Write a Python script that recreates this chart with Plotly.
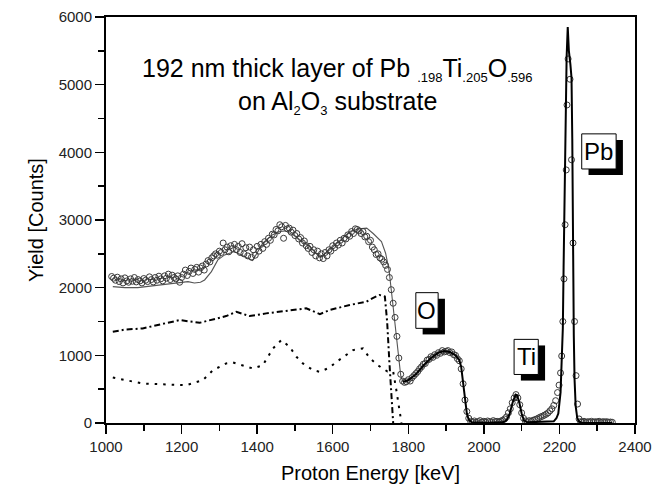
import plotly.graph_objects as go

# ---------------- data ----------------
# measured spectrum (open circles)
meas_energy = [
    1015, 1020, 1025, 1030, 1035, 1040, 1045, 1050, 1055, 1060, 1065, 1070, 1075, 1080, 1085, 1090, 1095,
    1100, 1105, 1110, 1115, 1120, 1125, 1130, 1135, 1140, 1145, 1150, 1155, 1160, 1165, 1170, 1175, 1180,
    1185, 1190, 1195, 1200, 1205, 1210, 1215, 1220, 1225, 1230, 1235, 1240, 1245, 1250, 1255, 1260, 1265,
    1270, 1275, 1280, 1285, 1290, 1295, 1300, 1305, 1310, 1315, 1320, 1325, 1330, 1335, 1340, 1345, 1350,
    1355, 1360, 1365, 1370, 1375, 1380, 1385, 1390, 1395, 1400, 1405, 1410, 1415, 1420, 1425, 1430, 1435,
    1440, 1445, 1450, 1455, 1460, 1465, 1470, 1475, 1480, 1485, 1490, 1495, 1500, 1505, 1510, 1515, 1520,
    1525, 1530, 1535, 1540, 1545, 1550, 1555, 1560, 1565, 1570, 1575, 1580, 1585, 1590, 1595, 1600, 1605,
    1610, 1615, 1620, 1625, 1630, 1635, 1640, 1645, 1650, 1655, 1660, 1665, 1670, 1675, 1680, 1685, 1690,
    1695, 1700, 1705, 1710, 1715, 1720, 1725, 1730, 1735, 1740, 1745, 1750, 1755, 1760, 1765, 1770, 1775,
    1780, 1785, 1790, 1795, 1800, 1805, 1810, 1815, 1820, 1825, 1830, 1835, 1840, 1845, 1850, 1855, 1860,
    1865, 1870, 1875, 1880, 1885, 1890, 1895, 1900, 1905, 1910, 1915, 1920, 1925, 1930, 1935, 1940, 1945,
    1950, 1955, 1960, 1965, 1970, 1975, 1980, 1985, 1990, 1995, 2000, 2005, 2010, 2015, 2020, 2025, 2030,
    2035, 2040, 2045, 2050, 2055, 2060, 2065, 2070, 2075, 2080, 2085, 2090, 2095, 2100, 2105, 2110, 2115,
    2120, 2125, 2130, 2135, 2140, 2145, 2150, 2155, 2160, 2165, 2170, 2175, 2180, 2185, 2190, 2195, 2199,
    2203, 2206, 2209, 2212, 2215, 2218, 2220, 2223, 2228, 2232, 2236, 2240, 2244, 2248, 2252, 2256, 2260,
    2265, 2270, 2275, 2280, 2285, 2290, 2295, 2300, 2305, 2310, 2315, 2320, 2325, 2330, 2335, 2340,
]
meas_yield = [
    2165, 2140, 2110, 2155, 2090, 2130, 2070, 2145, 2100, 2080, 2130, 2095, 2150, 2085, 2120, 2100, 2070,
    2135, 2110, 2090, 2160, 2120, 2085, 2150, 2110, 2170, 2130, 2100, 2175, 2140, 2200, 2120, 2185, 2150,
    2130, 2175, 2080, 2150, 2200, 2260, 2180, 2240, 2290, 2210, 2270, 2300, 2230, 2290, 2320, 2260, 2350,
    2400, 2380, 2440, 2470, 2500, 2480, 2540, 2520, 2660, 2560, 2600, 2530, 2620, 2580, 2640, 2560, 2610,
    2520, 2650, 2500, 2590, 2470, 2600, 2450, 2560, 2480, 2610, 2540, 2640, 2580, 2680, 2640, 2730, 2700,
    2790, 2780, 2860, 2840, 2930, 2900, 2730, 2920, 2870, 2880, 2820, 2850, 2770, 2800, 2720, 2740, 2660,
    2690, 2620, 2580, 2610, 2520, 2560, 2470, 2540, 2440, 2500, 2430, 2520, 2470, 2560, 2540, 2620, 2590,
    2660, 2630, 2700, 2660, 2730, 2720, 2780, 2760, 2830, 2800, 2870, 2860, 2840, 2800, 2830, 2750, 2760,
    2680, 2700, 2600, 2560, 2490, 2500, 2440, 2420, 2380, 2330, 2270, 2150, 1970, 1770, 1560, 1280, 960,
    720, 620, 600, 610, 640, 620, 670, 700, 730, 760, 800, 830, 870, 880, 930, 940, 980,
    970, 1010, 1000, 1040, 1030, 1070, 1050, 1060, 1070, 1040, 1050, 1010, 1000, 950, 920, 800, 580,
    340, 170, 70, 25, 15, 30, 10, 20, 35, 15, 25, 10, 30, 20, 15, 35, 20,
    25, 15, 30, 40, 60, 90, 150, 210, 300, 370, 420, 370, 270, 150, 70, 30, 20,
    35, 25, 40, 50, 60, 75, 90, 100, 115, 130, 150, 180, 210, 260, 330, 450, 560,
    740, 990, 1500, 2130, 2930, 3740, 4700, 5380, 5080, 3890, 2660, 1500, 700, 280, 60, 20, 15,
    25, 10, 20, 15, 25, 10, 20, 15, 25, 10, 20, 15, 20, 10, 15, 10,
]

# simulated film fit at low energies (thin grey line)
fit_low_energy = [1018, 1050, 1084, 1128, 1173, 1217, 1234, 1250, 1261, 1279, 1296, 1314, 1340, 1367,
                  1388, 1415, 1440, 1460, 1475, 1495, 1539, 1566, 1592, 1620, 1645, 1671, 1690, 1707,
                  1720, 1729, 1740, 1749, 1755, 1760, 1765, 1770, 1775, 1780, 1786]
fit_low_yield = [2015, 2000, 2000, 2030, 2054, 2089, 2070, 2080, 2114, 2237, 2410, 2484, 2533, 2459,
                 2400, 2657, 2780, 2830, 2840, 2780, 2607, 2450, 2560, 2700, 2830, 2870, 2880, 2800,
                 2730, 2681, 2509, 2262, 1966, 1700, 1450, 1200, 900, 700, 610]

# simulated fit at high energies (thick black line: O, Ti, Pb signals)
fit_high_energy = [1786, 1800, 1820, 1840, 1860, 1880, 1895, 1910, 1925, 1935, 1940, 1945, 1950, 1955,
                   1960, 1968, 2000, 2050, 2060, 2068, 2076, 2084, 2088, 2094, 2100, 2106, 2115, 2150,
                   2185, 2192, 2197, 2203, 2206, 2209, 2211, 2213, 2216, 2219, 2222, 2225, 2229, 2232,
                   2234, 2236, 2238, 2240, 2243, 2247, 2252, 2260, 2340]
fit_high_yield = [610, 630, 720, 850, 960, 1040, 1065, 1050, 1000, 930, 830, 600, 330, 140,
                  50, 10, 5, 10, 40, 130, 300, 420, 410, 300, 140, 40, 10, 15,
                  25, 70, 140, 450, 830, 1400, 2300, 3200, 4300, 5400, 5850, 5500, 5300, 5100,
                  4200, 2400, 1300, 650, 250, 80, 20, 5, 0]

# substrate contribution (dash-dot line)
sub_a_energy = [1018, 1050, 1097, 1150, 1195, 1248, 1280, 1318, 1345, 1380, 1424, 1477, 1530, 1566,
                1592, 1645, 1689, 1706, 1724, 1738, 1744, 1750, 1755, 1760]
sub_a_yield = [1348, 1380, 1398, 1460, 1521, 1481, 1530, 1580, 1644, 1580, 1620, 1659, 1694, 1610,
               1670, 1744, 1793, 1847, 1892, 1870, 1500, 900, 400, 0]

# substrate contribution (dotted line)
sub_b_energy = [1018, 1097, 1212, 1256, 1283, 1318, 1336, 1389, 1415, 1442, 1464, 1486, 1504, 1521,
                1548, 1566, 1592, 1610, 1654, 1680, 1698, 1719, 1745, 1760, 1768, 1775, 1782]
sub_b_yield = [672, 583, 558, 632, 780, 880, 895, 805, 854, 1102, 1225, 1126, 978, 880,
               780, 756, 820, 904, 1077, 1102, 958, 855, 760, 760, 500, 250, 0]

x_tick_vals = [1000, 1200, 1400, 1600, 1800, 2000, 2200, 2400]
y_tick_vals = [0, 1000, 2000, 3000, 4000, 5000, 6000]

FONT = "Liberation Sans, Arial, Helvetica, sans-serif"

fig = go.Figure()

fig.add_trace(go.Scatter(x=fit_low_energy, y=fit_low_yield, mode="lines",
                         line=dict(color="#555555", width=1.1), showlegend=False))
fig.add_trace(go.Scatter(x=sub_a_energy, y=sub_a_yield, mode="lines",
                         line=dict(color="black", width=2, dash="6px,3px,2px,3px"), showlegend=False))
fig.add_trace(go.Scatter(x=sub_b_energy, y=sub_b_yield, mode="lines",
                         line=dict(color="black", width=2, dash="2.5px,6px"), showlegend=False))
fig.add_trace(go.Scatter(x=meas_energy, y=meas_yield, mode="markers",
                         marker=dict(symbol="circle-open", size=6, color="#3a3a3a",
                                     line=dict(width=1, color="#3a3a3a")),
                         showlegend=False))
fig.add_trace(go.Scatter(x=fit_high_energy, y=fit_high_yield, mode="lines",
                         line=dict(color="black", width=2), showlegend=False))

shapes = []
annotations = []

# element labels in boxes with drop shadow
labels = [
    ("O", 1820, 1879, 1399, 1926),
    ("Ti", 2080, 2144, 717, 1236),
    ("Pb", 2259, 2350, 3754, 4273),
]
for text, x0, x1, y0, y1 in labels:
    shapes.append(dict(type="rect", xref="x", yref="y", x0=x0 + 18, x1=x1 + 18, y0=y0 - 90, y1=y1 - 90,
                       fillcolor="black", line=dict(width=0), layer="above"))
    shapes.append(dict(type="rect", xref="x", yref="y", x0=x0, x1=x1, y0=y0, y1=y1,
                       fillcolor="white", line=dict(color="black", width=1), layer="above"))
    annotations.append(dict(x=(x0 + x1) / 2, y=(y0 + y1) / 2, xref="x", yref="y", text=text,
                            showarrow=False, font=dict(family=FONT, size=24, color="black"),
                            xanchor="center", yanchor="middle"))

sub_style = '<sub><span style="font-size:13px">{}</span></sub>'
line1 = ("192 nm thick layer of Pb " + sub_style.format(".198") + "Ti" + sub_style.format(".205")
         + "O" + sub_style.format(".596"))
line2 = "on Al" + sub_style.format("2") + "O" + sub_style.format("3") + " substrate"
annotations.append(dict(x=1612, y=5225, xref="x", yref="y", text=line1, showarrow=False,
                        font=dict(family=FONT, size=25, color="black"), xanchor="center", yanchor="middle"))
annotations.append(dict(x=1613, y=4736, xref="x", yref="y", text=line2, showarrow=False,
                        font=dict(family=FONT, size=25, color="black"), xanchor="center", yanchor="middle"))

axis_common = dict(
    showline=True, linecolor="black", linewidth=2, mirror=True,
    ticks="outside", ticklen=9, tickwidth=1.5, tickcolor="black",
    showgrid=False, zeroline=False, automargin=False,
    tickfont=dict(family=FONT, size=15, color="#222222"),
)

fig.update_layout(
    template="none",
    width=667, height=486,
    margin=dict(l=106, r=32, t=17, b=63, pad=0),
    paper_bgcolor="white", plot_bgcolor="white",
    shapes=shapes, annotations=annotations,
    xaxis=dict(range=[1000, 2400], tickvals=x_tick_vals,
               minor=dict(dtick=100, ticks="outside", ticklen=6, tickwidth=1.5, tickcolor="black",
                          showgrid=False),
               title=dict(text="Proton Energy [keV]", font=dict(family=FONT, size=20, color="black"),
                          standoff=12),
               **axis_common),
    yaxis=dict(range=[0, 6000], tickvals=y_tick_vals,
               minor=dict(dtick=500, ticks="outside", ticklen=6, tickwidth=1.5, tickcolor="black",
                          showgrid=False),
               title=dict(text="Yield [Counts]", font=dict(family=FONT, size=20, color="black"),
                          standoff=10),
               **axis_common),
    showlegend=False,
)

fig.write_html("out.html",
               config={"displayModeBar": False, "staticPlot": True},
               post_script="document.body.style.margin='0px';document.body.style.overflow='hidden';")
